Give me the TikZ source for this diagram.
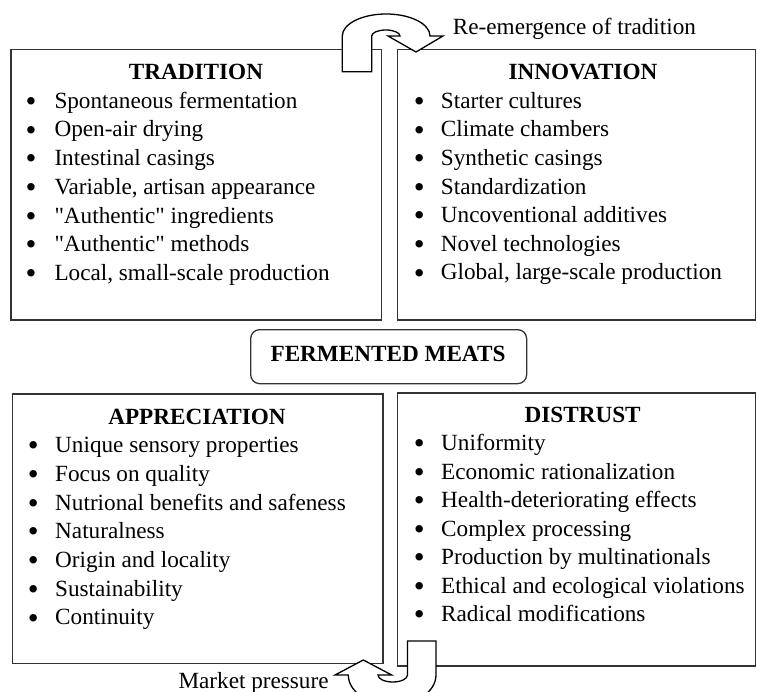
\documentclass[tikz,border=0pt]{standalone}
\usepackage{fontspec}
\setmainfont{Liberation Serif}
\newcommand\sq{\XeTeXglyph\XeTeXglyphindex "quotedbl"\relax}
\begin{document}
\begin{tikzpicture}[x=1pt,y=-1pt,
  box/.style={draw=black!80, line width=1.3pt, inner sep=0pt, outer sep=0pt, anchor=north west},
  title/.style={font=\bfseries, anchor=base, inner sep=0pt},
  itemtext/.style={anchor=base west, inner sep=0pt},
  bul/.style={anchor=center, inner sep=0pt, font=\fontsize{31}{31}\selectfont},
  label/.style={anchor=base west, inner sep=0pt},
  uturn/.style={draw=black, fill=white, line width=1.3pt, line join=miter}]
\clip (0,0) rectangle (757,692);
\fill[white] (0,0) rectangle (757,692);
\fontsize{23.2}{28}\selectfont
% boxes
\node[box, minimum width=370.5pt, minimum height=270.5pt] (trad) at (11,49.5) {};
\node[box, minimum width=358pt, minimum height=270.5pt] (innov) at (397.7,49.5) {};
\node[box, minimum width=370.3pt, minimum height=269.5pt] (appr) at (12.7,394) {};
\node[box, minimum width=358pt, minimum height=273pt] (distr) at (397.7,393) {};
\node[draw=black!80, line width=1.3pt, rounded corners=9pt, minimum width=276pt, minimum height=54pt, anchor=north west, inner sep=0pt] (fm) at (250,329) {};
\node[title] (fmt) at (388,361.7) {FERMENTED MEATS};
% titles
\node[title] (tradt) at (196,79.5) {TRADITION};
\node[title] (innovt) at (583,80) {INNOVATION};
\node[title] (apprt) at (197,424) {APPRECIATION};
\node[title] (distrt) at (582.7,422.7) {DISTRUST};
% items
\foreach \t [count=\i from 0] in {Spontaneous fermentation, Open-air drying, Intestinal casings, {Variable, artisan appearance}, {\sq Authentic\sq{} ingredients}, {\sq Authentic\sq{} methods}, {Local, small-scale production}}{
  \node[bul] (tb\i) at (31,104.5+28.7*\i) {•};
  \node[itemtext] (ti\i) at (54.3,108.3+28.7*\i) {\t};
}
\foreach \t [count=\i from 0] in {Starter cultures, Climate chambers, Synthetic casings, Standardization, Uncoventional additives, Novel technologies, {Global, large-scale production}}{
  \node[bul] (ib\i) at (419.3,104.5+28.6*\i) {•};
  \node[itemtext] (ii\i) at (440.7,108.3+28.6*\i) {\t};
}
\foreach \t [count=\i from 0] in {Unique sensory properties, Focus on quality, Nutrional benefits and safeness, Naturalness, Origin and locality, Sustainability, Continuity}{
  \node[bul] (ab\i) at (33.3,448.9+28.7*\i) {•};
  \node[itemtext] (ai\i) at (55,452.7+28.7*\i) {\t};
}
\foreach \t [count=\i from 0] in {Uniformity, Economic rationalization, Health-deteriorating effects, Complex processing, Production by multinationals, Ethical and ecological violations, Radical modifications}{
  \node[bul] (db\i) at (419.3,446.9+28.5*\i) {•};
  \node[itemtext] (di\i) at (441,450.7+28.5*\i) {\t};
}
% labels
\node[label] (reem) at (452.7,35) {Re-emergence of tradition};
\node[label] (mkt) at (178.3,688) {Market pressure};
% top U-turn arrow (tradition -> innovation)
\draw[uturn] (342.3,71.7) -- (342.3,36)
  .. controls (342.3,23.85) and (361.93,14) .. (386.15,14)
  .. controls (410.37,14) and (430,23.85) .. (430,36)
  -- (443,36) -- (416,52) -- (388,36) -- (400,36)
  .. controls (400,32.69) and (393.66,30) .. (385.85,30)
  .. controls (378.04,30) and (371.7,32.69) .. (371.7,36)
  -- (371.7,71.7) -- cycle;
% bottom U-turn arrow (distrust -> appreciation)
\draw[uturn] (407.5,641) -- (436,641) -- (436,675)
  .. controls (436,691.57) and (416.37,705) .. (392.15,705)
  .. controls (367.93,705) and (348.3,691.57) .. (348.3,675)
  -- (335,675) -- (363.3,660) -- (391.7,675) -- (378,675)
  .. controls (378,678.87) and (384.6,682) .. (392.75,682)
  .. controls (400.9,682) and (407.5,678.87) .. (407.5,675)
  -- cycle;
\end{tikzpicture}
\end{document}
